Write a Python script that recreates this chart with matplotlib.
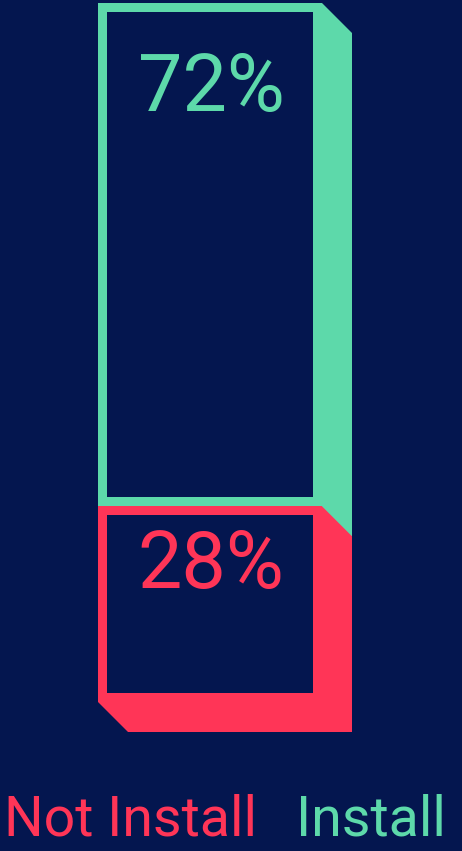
import matplotlib
matplotlib.use("Agg")
from matplotlib import pyplot as plt
from matplotlib.patches import Polygon, Rectangle

categories = ["Not Install", "Install"]
values = [28, 72]  # percent, bottom to top
colors = ["#FF3557", "#5DD9AA"]
BG = "#04164F"

plt.rcParams["font.family"] = ["Roboto", "DejaVu Sans"]

W, H = 462, 851
fig = plt.figure(figsize=(W / 100, H / 100), dpi=100, facecolor=BG)
# axes spans the whole figure, x in pixels, y in percent of the bar
BAR_TOP_PX, BAR_BOT_PX = 3, 702
px_per_pct = (BAR_BOT_PX - BAR_TOP_PX) / 100
ax = fig.add_axes([0, 0, 1, 1])
ax.set_facecolor(BG)
ax.set_xlim(0, W)
ax.set_ylim(-(H - BAR_BOT_PX) / px_per_pct, BAR_BOT_PX / px_per_pct)
ax.axis("off")

X0, X1 = 98, 322
DEPTH = 30  # px
BORDER = 9  # px
dy = DEPTH / px_per_pct
by = BORDER / px_per_pct
baseline_offsets = [82, 108]  # px from segment top down to text baseline

# stack from the top down so the lower segment paints over the upper one's edge
tops = []
acc = 100
for v in values[::-1]:
    tops.append(acc)
    acc -= v
tops = tops[::-1]

order = list(range(len(values)))[::-1]
for i in order:
    top = tops[i]
    bot = top - values[i]
    side = Polygon(
        [(X0, top), (X1, top), (X1 + DEPTH, top - dy), (X1 + DEPTH, bot - dy),
         (X0 + DEPTH, bot - dy), (X0, bot)],
        closed=True, facecolor=colors[i], edgecolor="none", zorder=1 + (len(values) - i),
    )
    ax.add_patch(side)

for i in order:
    top = tops[i]
    bot = top - values[i]
    z = 5 + (len(values) - i)
    ax.add_patch(Rectangle((X0, bot), X1 - X0, top - bot,
                           facecolor=colors[i], edgecolor="none", zorder=z))
    ax.add_patch(Rectangle((X0 + BORDER, bot + by), X1 - X0 - 2 * BORDER,
                           top - bot - 2 * by, facecolor=BG, edgecolor="none", zorder=z))
    ax.text((X0 + X1) / 2 + 1, top - baseline_offsets[i] / px_per_pct, f"{values[i]}%",
            color=colors[i], fontsize=57, ha="center", va="baseline", zorder=20)

# legend-like labels under the bar
label_y = -(836 - BAR_BOT_PX) / px_per_pct
ax.text(4, label_y, categories[0], color=colors[0], fontsize=40, ha="left", va="baseline")
ax.text(446, label_y, categories[1], color=colors[1], fontsize=40, ha="right", va="baseline")

fig.savefig("out.png", dpi=100, facecolor=BG)
